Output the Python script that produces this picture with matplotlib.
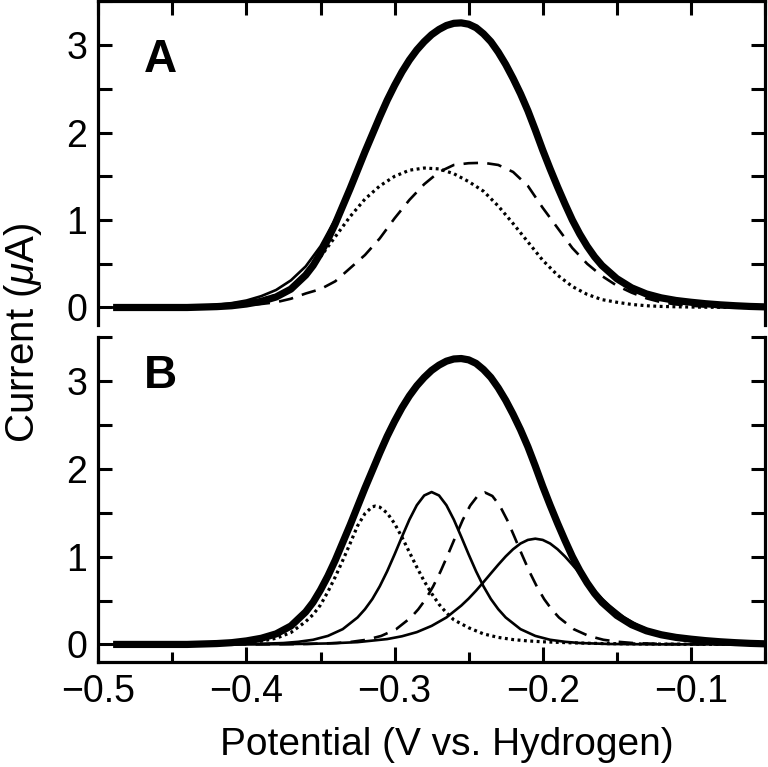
""" Square-wave style voltammogram with component peaks, two stacked panels. """

import matplotlib
matplotlib.use("Agg")
import matplotlib.pyplot as plt
from matplotlib.ticker import MultipleLocator

plt.rcParams["font.family"] = ["Liberation Sans", "DejaVu Sans"]
plt.rcParams["mathtext.fontset"] = "custom"
plt.rcParams["mathtext.rm"] = "Liberation Sans"
plt.rcParams["mathtext.it"] = "Liberation Sans:italic"

# measured current (same data in both panels)
data_e = [-0.49, -0.48, -0.47, -0.46, -0.45, -0.44, -0.43, -0.42, -0.41, -0.40,
          -0.39, -0.38, -0.37, -0.36, -0.355, -0.35, -0.345, -0.34, -0.335, -0.33,
          -0.325, -0.32, -0.315, -0.31, -0.305, -0.30, -0.295, -0.29, -0.285, -0.28,
          -0.275, -0.27, -0.265, -0.26, -0.255, -0.25, -0.245, -0.24, -0.235, -0.23,
          -0.225, -0.22, -0.215, -0.21, -0.205, -0.20, -0.195, -0.19, -0.185, -0.18,
          -0.175, -0.17, -0.165, -0.16, -0.15, -0.14, -0.13, -0.12, -0.11, -0.10,
          -0.09, -0.08, -0.07, -0.06, -0.05]
data_i = [0.0, 0.0, 0.0, 0.0, 0.0, 0.0, 0.005, 0.01, 0.02, 0.04,
          0.07, 0.12, 0.21, 0.37, 0.48, 0.62, 0.78, 0.96, 1.16, 1.36,
          1.57, 1.78, 1.98, 2.18, 2.37, 2.54, 2.695, 2.83, 2.945, 3.04,
          3.12, 3.18, 3.225, 3.25, 3.255, 3.24, 3.20, 3.13, 3.04, 2.92,
          2.78, 2.62, 2.445, 2.25, 2.03, 1.80, 1.585, 1.38, 1.185, 1.00,
          0.84, 0.70, 0.58, 0.48, 0.33, 0.225, 0.155, 0.11, 0.08, 0.06,
          0.043, 0.03, 0.02, 0.012, 0.007]

# panel A: two-component fit, potential grid in V
potential = [-0.49, -0.48, -0.47, -0.46, -0.45, -0.44, -0.43, -0.42, -0.41, -0.40,
             -0.39, -0.38, -0.37, -0.36, -0.35, -0.34, -0.33, -0.32, -0.31, -0.30,
             -0.29, -0.28, -0.27, -0.26, -0.25, -0.24, -0.23, -0.22, -0.21, -0.20,
             -0.19, -0.18, -0.17, -0.16, -0.15, -0.14, -0.13, -0.12, -0.11, -0.10,
             -0.09, -0.08, -0.07, -0.06, -0.05]
fit_a = [0.0, 0.0, 0.0, 0.0, 0.0, 0.0, 0.02, 0.03, 0.05, 0.08,
         0.13, 0.20, 0.31, 0.47, 0.70, 1.01, 1.38, 1.78, 2.18, 2.54,
         2.83, 3.04, 3.18, 3.25, 3.24, 3.13, 2.92, 2.62, 2.25, 1.80,
         1.38, 1.00, 0.70, 0.48, 0.33, 0.225, 0.155, 0.11, 0.08, 0.06,
         0.043, 0.03, 0.02, 0.012, 0.007]
dotted_a = [0.0, 0.0, 0.0, 0.0, 0.0, 0.0, 0.01, 0.02, 0.035, 0.06,
            0.09, 0.14, 0.21, 0.37, 0.58, 0.81, 1.04, 1.24, 1.39, 1.50,
            1.57, 1.595, 1.585, 1.53, 1.44, 1.33, 1.16, 0.96, 0.75, 0.54,
            0.37, 0.24, 0.15, 0.09, 0.06, 0.035, 0.02, 0.012, 0.008, 0.005,
            0.003, 0.002, 0.001, 0.0, 0.0]
dashed_a = [0.0, 0.0, 0.0, 0.0, 0.0, 0.0, 0.0, 0.0, 0.01, 0.025,
            0.04, 0.06, 0.10, 0.16, 0.21, 0.30, 0.45, 0.60, 0.79, 1.02,
            1.23, 1.41, 1.55, 1.63, 1.65, 1.655, 1.63, 1.55, 1.39, 1.14,
            0.91, 0.68, 0.50, 0.36, 0.25, 0.17, 0.105, 0.06, 0.035, 0.02,
            0.01, 0.005, 0.0, 0.0, 0.0]

# panel B: four-component fit
dotted_b_e = [-0.49, -0.44, -0.42, -0.40, -0.39, -0.38, -0.37, -0.36, -0.355, -0.35,
              -0.345, -0.34, -0.335, -0.33, -0.325, -0.32, -0.315, -0.313, -0.31, -0.305,
              -0.30, -0.295, -0.29, -0.285, -0.28, -0.275, -0.27, -0.265, -0.26, -0.25,
              -0.24, -0.23, -0.22, -0.21, -0.20, -0.18, -0.16, -0.13, -0.10, -0.05]
dotted_b = [0.0, 0.002, 0.005, 0.019, 0.037, 0.07, 0.135, 0.26, 0.34, 0.45,
            0.60, 0.77, 0.956, 1.15, 1.35, 1.49, 1.568, 1.575, 1.563, 1.496,
            1.376, 1.22, 1.05, 0.88, 0.72, 0.58, 0.457, 0.36, 0.28, 0.19,
            0.12, 0.08, 0.055, 0.04, 0.03, 0.018, 0.01, 0.005, 0.002, 0.0]

solid1_b_e = [-0.49, -0.425, -0.395, -0.375, -0.365, -0.355, -0.345, -0.335, -0.325, -0.32,
              -0.315, -0.31, -0.305, -0.30, -0.295, -0.29, -0.285, -0.28, -0.275, -0.27,
              -0.265, -0.26, -0.255, -0.25, -0.245, -0.24, -0.235, -0.23, -0.225, -0.215,
              -0.205, -0.195, -0.185, -0.175, -0.155, -0.125, -0.05]
solid1_b = [0.0, 0.001, 0.005, 0.016, 0.030, 0.053, 0.097, 0.174, 0.307, 0.401,
            0.517, 0.662, 0.833, 1.025, 1.226, 1.421, 1.585, 1.696, 1.735, 1.696,
            1.585, 1.421, 1.226, 1.025, 0.833, 0.662, 0.517, 0.401, 0.307, 0.174,
            0.097, 0.053, 0.030, 0.016, 0.005, 0.001, 0.0]

dashed_b_e = [-0.49, -0.389, -0.359, -0.339, -0.329, -0.319, -0.309, -0.299, -0.289, -0.284,
              -0.279, -0.274, -0.269, -0.264, -0.259, -0.254, -0.249, -0.244, -0.239, -0.234,
              -0.229, -0.224, -0.219, -0.214, -0.209, -0.204, -0.199, -0.194, -0.189, -0.179,
              -0.169, -0.159, -0.149, -0.139, -0.119, -0.089, -0.05]
dashed_b = [0.0, 0.001, 0.005, 0.016, 0.030, 0.053, 0.097, 0.173, 0.306, 0.40,
            0.515, 0.66, 0.83, 1.022, 1.222, 1.417, 1.58, 1.69, 1.73, 1.69,
            1.58, 1.417, 1.222, 1.022, 0.83, 0.66, 0.515, 0.40, 0.306, 0.173,
            0.097, 0.053, 0.030, 0.016, 0.005, 0.001, 0.0]

solid2_b_e = [-0.49, -0.405, -0.375, -0.345, -0.325, -0.305, -0.295, -0.285, -0.275, -0.265,
              -0.255, -0.25, -0.245, -0.24, -0.235, -0.23, -0.225, -0.22, -0.215, -0.21,
              -0.205, -0.20, -0.195, -0.19, -0.185, -0.18, -0.175, -0.17, -0.165, -0.16,
              -0.155, -0.145, -0.135, -0.125, -0.115, -0.105, -0.085, -0.065, -0.05]
solid2_b = [0.0, 0.001, 0.003, 0.011, 0.026, 0.061, 0.093, 0.14, 0.211, 0.307,
            0.442, 0.522, 0.612, 0.709, 0.809, 0.908, 1.002, 1.084, 1.149, 1.19,
            1.204, 1.19, 1.149, 1.084, 1.002, 0.908, 0.809, 0.709, 0.612, 0.522,
            0.442, 0.307, 0.211, 0.14, 0.093, 0.061, 0.026, 0.011, 0.006]

THICK = 5.2
THIN = 1.9
TICK_FS = 27
XLABEL_FS = 28
YLABEL_FS = 29


def style_axes(ax, top_panel: bool):
    ax.set_xlim(-0.5, -0.05)
    ax.set_ylim(-0.2, 3.5)
    for side in ["left", "right", "top", "bottom"]:
        ax.spines[side].set_linewidth(2.3)
    if top_panel:
        ax.spines["bottom"].set_visible(False)
    else:
        ax.spines["top"].set_visible(False)

    ax.xaxis.set_major_locator(MultipleLocator(0.1))
    ax.xaxis.set_minor_locator(MultipleLocator(0.05))
    ax.yaxis.set_major_locator(MultipleLocator(1))
    ax.yaxis.set_minor_locator(MultipleLocator(0.5))

    ax.tick_params(axis="y", which="both", direction="in", left=True, right=True,
                   length=10, width=2.2, labelsize=TICK_FS, pad=8)
    if top_panel:
        ax.tick_params(axis="x", which="both", direction="in", top=True, bottom=False,
                       labelbottom=False, length=10, width=2.2)
    else:
        ax.tick_params(axis="x", which="major", direction="in", top=False, bottom=True,
                       length=11, width=2.2, labelsize=TICK_FS, pad=9)
        ax.tick_params(axis="x", which="minor", direction="in", top=False, bottom=True,
                       length=7, width=2.2)


fig = plt.figure(figsize=(7.68, 7.67), dpi=100)
ax_a = fig.add_axes([0.128, 0.5763, 0.868, 0.4218])
ax_b = fig.add_axes([0.128, 0.1369, 0.868, 0.4237])

# panel A
ax_a.plot(data_e, data_i, "k-", lw=THICK, solid_capstyle="butt")
ax_a.plot(potential, fit_a, "k-", lw=THIN)
ax_a.plot(potential, dotted_a, "k", lw=THIN + 0.4, linestyle=(0, (0.9, 1.1)))
ax_a.plot(potential, dashed_a, "k", lw=THIN, linestyle=(0, (5.5, 3.5)))
style_axes(ax_a, True)
ax_a.text(0.068, 0.782, "A", transform=ax_a.transAxes, fontsize=33,
          fontweight="bold", ha="left", va="baseline")

# panel B
ax_b.plot(data_e, data_i, "k-", lw=THICK, solid_capstyle="butt")
ax_b.plot(dotted_b_e, dotted_b, "k", lw=THIN + 0.4, linestyle=(0, (0.9, 1.1)))
ax_b.plot(solid1_b_e, solid1_b, "k-", lw=THIN)
ax_b.plot(dashed_b_e, dashed_b, "k", lw=THIN, linestyle=(0, (5.5, 3.5)))
ax_b.plot(solid2_b_e, solid2_b, "k-", lw=THIN)
style_axes(ax_b, False)
ax_b.text(0.068, 0.843, "B", transform=ax_b.transAxes, fontsize=33,
          fontweight="bold", ha="left", va="baseline")

ax_b.set_xlabel("Potential (V vs. Hydrogen)", fontsize=XLABEL_FS)
ax_b.xaxis.set_label_coords(0.523, -0.2)
fig.text(0.030, 0.566, "Current ($\\mu$A)", rotation=90, fontsize=YLABEL_FS,
         ha="center", va="center")

fig.savefig("out.png", dpi=100)
